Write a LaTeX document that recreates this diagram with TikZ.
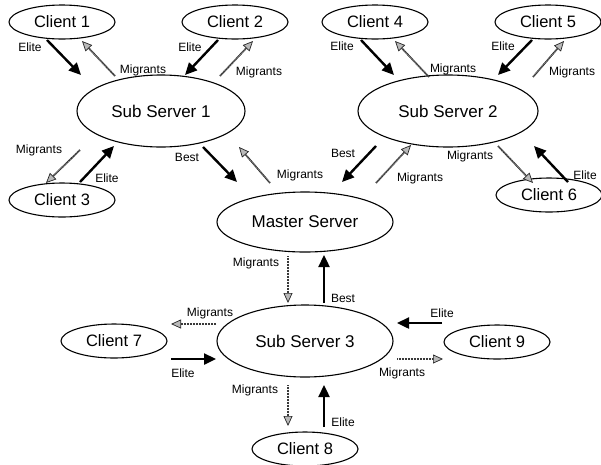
\documentclass[tikz,border=0pt]{standalone}
\usepackage{fontspec}
\setmainfont{Liberation Sans}
\usetikzlibrary{shapes.geometric,arrows.meta}
\begin{document}
\begin{tikzpicture}[x=1pt,y=-1pt,
  client/.style={ellipse,draw,line width=1.1pt,minimum width=106pt,minimum height=34pt,inner sep=0pt,font=\fontsize{16.5}{18}\selectfont},
  server/.style={ellipse,draw,line width=1.1pt,minimum width=176pt,minimum height=72pt,inner sep=0pt,font=\fontsize{17}{19}\selectfont},
  elite/.style={line width=2.4pt,-{Triangle[length=12pt,width=11pt]}},
  migr/.style={line width=1.8pt,draw=gray!45!black,dash pattern=on 1pt off 0.5pt,
    -{Triangle[length=10pt,width=9pt,fill=gray!55,color=gray!30!black,line width=0.7pt]}},
  lbl/.style={font=\fontsize{12}{14}\selectfont,inner sep=0pt}]
\useasboundingbox (0,0) rectangle (601,464);
% nodes
\node[client] (c1) at (62,22) {Client 1};
\node[client] (c2) at (235,22) {Client 2};
\node[client] (c3) at (62,200) {Client 3};
\node[client] (c4) at (375,22) {Client 4};
\node[client] (c5) at (548,22) {Client 5};
\node[client] (c6) at (549,195) {Client 6};
\node[client] (c7) at (114,341) {Client 7};
\node[client] (c8) at (305,449) {Client 8};
\node[client] (c9) at (497,342) {Client 9};
\node[server,minimum width=168pt] (s1) at (161,111) {Sub Server 1};
\node[server,minimum width=180pt] (s2) at (448,111) {Sub Server 2};
\node[server,minimum height=60pt] (m) at (305,222) {Master Server};
\node[server] (s3) at (305,341) {Sub Server 3};
% connector end points
\coordinate (a1) at (47,40);   \coordinate (b1) at (81,75);
\coordinate (a2) at (115,76);  \coordinate (b2) at (82,41);
\coordinate (a3) at (218,40);  \coordinate (b3) at (185,75);
\coordinate (a4) at (220,76);  \coordinate (b4) at (253,41);
\coordinate (a5) at (80,150);  \coordinate (b5) at (46,183);
\coordinate (a6) at (80,182);  \coordinate (b6) at (114,146);
\coordinate (a7) at (203,147); \coordinate (b7) at (237,182);
\coordinate (a8) at (270,183); \coordinate (b8) at (239,147);
\coordinate (a9) at (361,40);  \coordinate (b9) at (394,75);
\coordinate (a10) at (429,77); \coordinate (b10) at (395,41);
\coordinate (a11) at (532,40); \coordinate (b11) at (498,75);
\coordinate (a12) at (533,77); \coordinate (b12) at (564,41);
\coordinate (a13) at (376,146); \coordinate (b13) at (342,182);
\coordinate (a14) at (376,183); \coordinate (b14) at (411,145);
\coordinate (a15) at (498,146); \coordinate (b15) at (533,183);
\coordinate (a16) at (568,182); \coordinate (b16) at (534,146);
\coordinate (a17) at (288,256); \coordinate (b17) at (288,303);
\coordinate (a18) at (324,303); \coordinate (b18) at (324,255);
\coordinate (a19) at (216,324); \coordinate (b19) at (171,324);
\coordinate (a20) at (171,359); \coordinate (b20) at (216,359);
\coordinate (a21) at (442,323); \coordinate (b21) at (397,323);
\coordinate (a22) at (397,359); \coordinate (b22) at (443,359);
\coordinate (a23) at (288,385); \coordinate (b23) at (288,426);
\coordinate (a24) at (324,427); \coordinate (b24) at (324,385);
% connectors
\draw[elite] (a1) -- (b1);
\draw[migr] (a2) -- (b2);
\draw[elite] (a3) -- (b3);
\draw[migr] (a4) -- (b4);
\draw[migr] (a5) -- (b5);
\draw[elite] (a6) -- (b6);
\draw[elite] (a7) -- (b7);
\draw[migr] (a8) -- (b8);
\draw[elite] (a9) -- (b9);
\draw[migr] (a10) -- (b10);
\draw[elite] (a11) -- (b11);
\draw[migr] (a12) -- (b12);
\draw[elite] (a13) -- (b13);
\draw[migr] (a14) -- (b14);
\draw[migr] (a15) -- (b15);
\draw[elite] (a16) -- (b16);
\draw[migr] (a17) -- (b17);
\draw[elite] (a18) -- (b18);
\draw[migr] (a19) -- (b19);
\draw[elite] (a20) -- (b20);
\draw[elite] (a21) -- (b21);
\draw[migr] (a22) -- (b22);
\draw[migr] (a23) -- (b23);
\draw[elite] (a24) -- (b24);
% labels
\node[lbl] (l1) at (30,47) {Elite};
\node[lbl] (l2) at (143,70) {Migrants};
\node[lbl] (l3) at (190,47) {Elite};
\node[lbl] (l4) at (259,72) {Migrants};
\node[lbl] (l5) at (39,150) {Migrants};
\node[lbl] (l6) at (107,178) {Elite};
\node[lbl] (l7) at (187,157) {Best};
\node[lbl] (l8) at (300,175) {Migrants};
\node[lbl] (l9) at (342,46) {Elite};
\node[lbl] (l10) at (453,69) {Migrants};
\node[lbl] (l11) at (503,46) {Elite};
\node[lbl] (l12) at (572,72) {Migrants};
\node[lbl] (l13) at (343,153) {Best};
\node[lbl] (l14) at (420,178) {Migrants};
\node[lbl] (l15) at (470,156) {Migrants};
\node[lbl] (l16) at (585,175) {Elite};
\node[lbl] (l17) at (256,263) {Migrants};
\node[lbl] (l18) at (343,298) {Best};
\node[lbl] (l19) at (210,313) {Migrants};
\node[lbl] (l20) at (183,373) {Elite};
\node[lbl] (l21) at (442,313) {Elite};
\node[lbl] (l22) at (402,373) {Migrants};
\node[lbl] (l23) at (255,390) {Migrants};
\node[lbl] (l24) at (343,422) {Elite};
\end{tikzpicture}
\end{document}
